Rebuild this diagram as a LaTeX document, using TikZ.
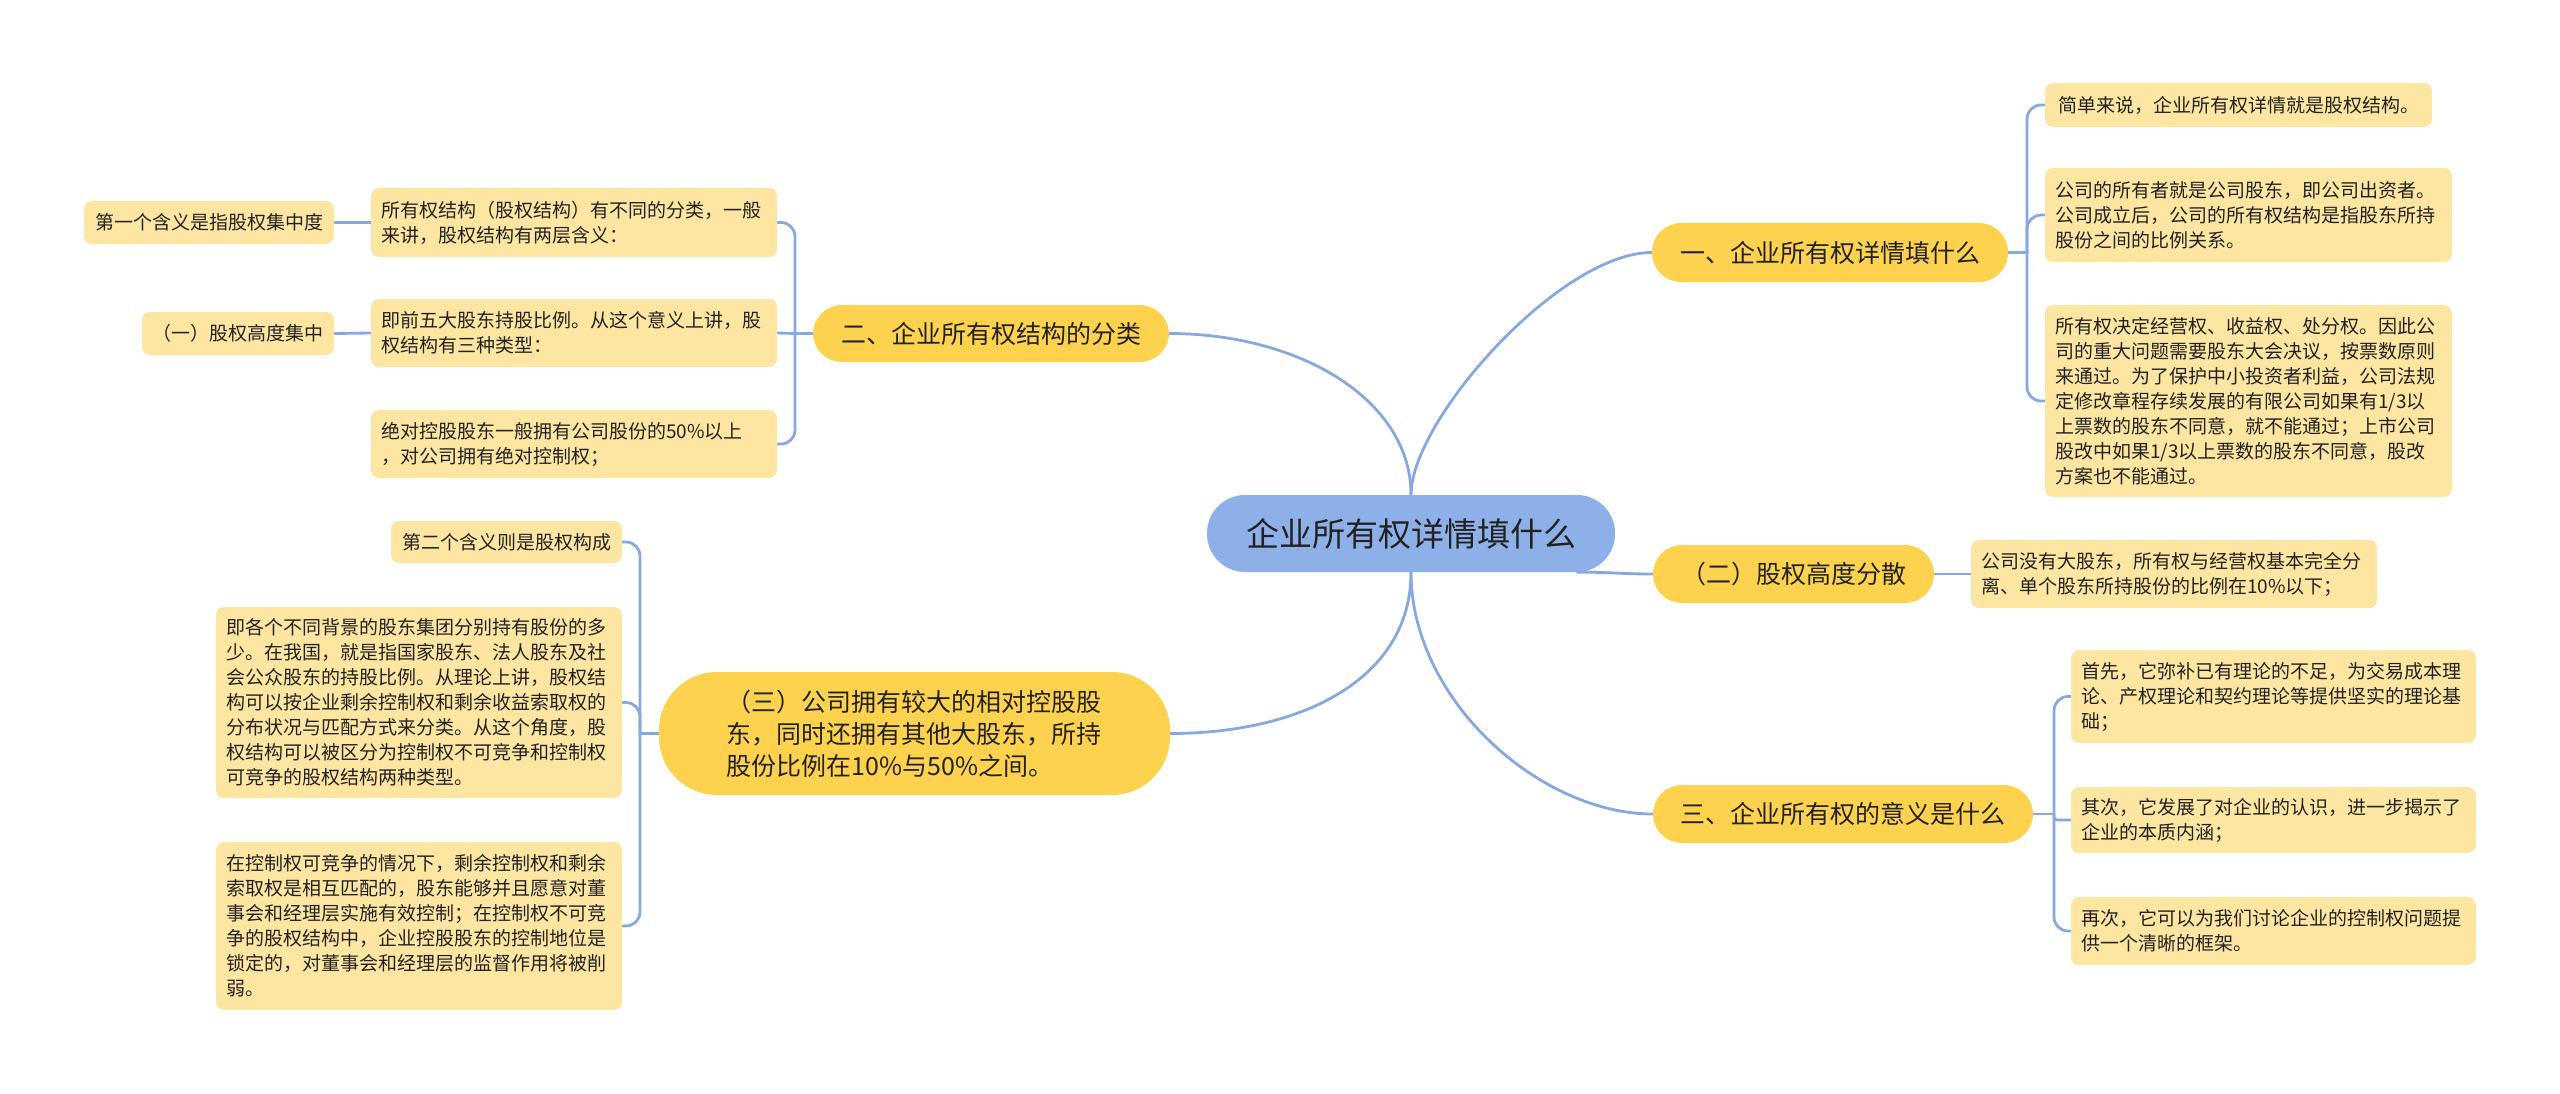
\documentclass[tikz,border=0pt]{standalone}
\usepackage{fontspec}
\setmainfont{Noto Sans CJK SC}
\usetikzlibrary{backgrounds}
\definecolor{rootc}{HTML}{8EB0E8}
\definecolor{branchc}{HTML}{FDD24F}
\definecolor{leafc}{HTML}{FDE6A2}
\definecolor{linec}{HTML}{86A8DF}
\definecolor{txt}{HTML}{222222}
\begin{document}
\begin{tikzpicture}[x=1pt,y=-1pt,
  conn/.style={draw=linec, line width=2.8pt, line cap=round},
  rootbox/.style={fill=rootc, rounded corners=38pt, font=\fontsize{33}{40}\selectfont, text=txt, inner sep=0pt},
  branchbox/.style={fill=branchc, rounded corners=29pt, font=\fontsize{25}{32}\selectfont, text=txt, inner sep=0pt},
  leafbox/.style={fill=leafc, rounded corners=8pt, font=\fontsize{19}{25}\selectfont, text=txt, inner xsep=10pt, inner ysep=0pt, align=left},
]
\useasboundingbox (0,0) rectangle (2560,1093);

% root and main branches
\node[rootbox, minimum width=408pt, minimum height=77pt] (root) at (1411,533.5) {企业所有权详情填什么};
\node[branchbox, minimum width=356pt, minimum height=59pt] (b1) at (1830,252.5) {一、企业所有权详情填什么};
\node[branchbox, minimum width=281pt, minimum height=58pt] (b2) at (1793.5,574) {（二）股权高度分散};
\node[branchbox, minimum width=380pt, minimum height=58pt] (b3) at (1843,814) {三、企业所有权的意义是什么};
\node[branchbox, minimum width=356pt, minimum height=57pt] (b4) at (991,333.5) {二、企业所有权结构的分类};
\node[branchbox, minimum width=511pt, minimum height=123pt, text width=376pt, align=left, rounded corners=58pt] (b5) at (914.5,733.5) {（三）公司拥有较大的相对控股股\\东，同时还拥有其他大股东，所持\\股份比例在10\%与50\%之间。};

% right leaves
\node[leafbox, minimum width=387pt, minimum height=44pt] (l1a) at (2238.5,105) {简单来说，企业所有权详情就是股权结构。};
\node[leafbox, text width=387pt, minimum height=94pt] (l1b) at (2248.5,215) {公司的所有者就是公司股东，即公司出资者。\\公司成立后，公司的所有权结构是指股东所持\\股份之间的比例关系。};
\node[leafbox, text width=387pt, minimum height=192pt] (l1c) at (2248.5,401) {所有权决定经营权、收益权、处分权。因此公\\司的重大问题需要股东大会决议，按票数原则\\来通过。为了保护中小投资者利益，公司法规\\定修改章程存续发展的有限公司如果有1/3以\\上票数的股东不同意，就不能通过；上市公司\\股改中如果1/3以上票数的股东不同意，股改\\方案也不能通过。};
\node[leafbox, text width=386pt, minimum height=68pt] (l2) at (2174,574) {公司没有大股东，所有权与经营权基本完全分\\离、单个股东所持股份的比例在10\%以下；};
\node[leafbox, text width=385pt, minimum height=93pt] (l3a) at (2273.5,696.5) {首先，它弥补已有理论的不足，为交易成本理\\论、产权理论和契约理论等提供坚实的理论基\\础；};
\node[leafbox, text width=385pt, minimum height=66pt] (l3b) at (2273.5,820) {其次，它发展了对企业的认识，进一步揭示了\\企业的本质内涵；};
\node[leafbox, text width=385pt, minimum height=68pt] (l3c) at (2273.5,931) {再次，它可以为我们讨论企业的控制权问题提\\供一个清晰的框架。};

% left leaves
\node[leafbox, text width=386pt, minimum height=69pt] (l4a) at (574,222.5) {所有权结构（股权结构）有不同的分类，一般\\来讲，股权结构有两层含义：};
\node[leafbox, text width=386pt, minimum height=68pt] (l4b) at (574,333) {即前五大股东持股比例。从这个意义上讲，股\\权结构有三种类型：};
\node[leafbox, text width=386pt, minimum height=68pt] (l4c) at (574,444) {绝对控股股东一般拥有公司股份的50\%以上\\，对公司拥有绝对控制权；};
\node[leafbox, minimum width=250pt, minimum height=43pt] (l4ac) at (209,222.5) {第一个含义是指股权集中度};
\node[leafbox, minimum width=192pt, minimum height=43pt] (l4bc) at (238,333.5) {（一）股权高度集中};
\node[leafbox, minimum width=231pt, minimum height=42pt] (l5a) at (506.5,542) {第二个含义则是股权构成};
\node[leafbox, text width=386pt, minimum height=191pt] (l5b) at (419,702.5) {即各个不同背景的股东集团分别持有股份的多\\少。在我国，就是指国家股东、法人股东及社\\会公众股东的持股比例。从理论上讲，股权结\\构可以按企业剩余控制权和剩余收益索取权的\\分布状况与匹配方式来分类。从这个角度，股\\权结构可以被区分为控制权不可竞争和控制权\\可竞争的股权结构两种类型。};
\node[leafbox, text width=386pt, minimum height=168pt] (l5c) at (419,926) {在控制权可竞争的情况下，剩余控制权和剩余\\索取权是相互匹配的，股东能够并且愿意对董\\事会和经理层实施有效控制；在控制权不可竞\\争的股权结构中，企业控股股东的控制地位是\\锁定的，对董事会和经理层的监督作用将被削\\弱。};

% spine coordinates
\coordinate (s1) at (2027,252.5);
\coordinate (s3) at (2054,814);
\coordinate (s4) at (795,333.5);
\coordinate (s5) at (640,733.5);

\begin{pgfonlayer}{background}
\draw[conn] (root.north) .. controls (1411,420) and (1560,252.5) .. (b1.west);
\draw[conn] (b4.east) .. controls (1300,333.5) and (1411,400) .. (root.north);
\draw[conn] ([xshift=-38pt]root.south east) .. controls (1610,572) and (1620,574) .. (b2.west);
\draw[conn] (root.south) .. controls (1411,700) and (1540,814) .. (b3.west);
\draw[conn] (root.south) .. controls (1411,680) and (1300,733.5) .. (b5.east);

\draw[conn] (b1.east) -- (s1);
\draw[conn, rounded corners=14pt] (s1) |- (l1a.west);
\draw[conn, rounded corners=14pt] (s1) |- (l1b.west);
\draw[conn, rounded corners=14pt] (s1) |- (l1c.west);

\draw[conn] (b2.east) -- (l2.west);

\draw[conn] (b3.east) -- (s3);
\draw[conn, rounded corners=14pt] (s3) |- (l3a.west);
\draw[conn, rounded corners=3pt] (s3) |- (l3b.west);
\draw[conn, rounded corners=14pt] (s3) |- (l3c.west);

\draw[conn] (b4.west) -- (s4);
\draw[conn, rounded corners=14pt] (s4) |- (l4a.east);
\draw[conn] (s4) -- (l4b.east);
\draw[conn, rounded corners=14pt] (s4) |- (l4c.east);
\draw[conn] (l4a.west) -- (l4ac.east);
\draw[conn] (l4b.west) -- (l4bc.east);

\draw[conn] (b5.west) -- (s5);
\draw[conn, rounded corners=14pt] (s5) |- (l5a.east);
\draw[conn, rounded corners=14pt] (s5) |- (l5b.east);
\draw[conn, rounded corners=14pt] (s5) |- (l5c.east);
\end{pgfonlayer}
\end{tikzpicture}
\end{document}
